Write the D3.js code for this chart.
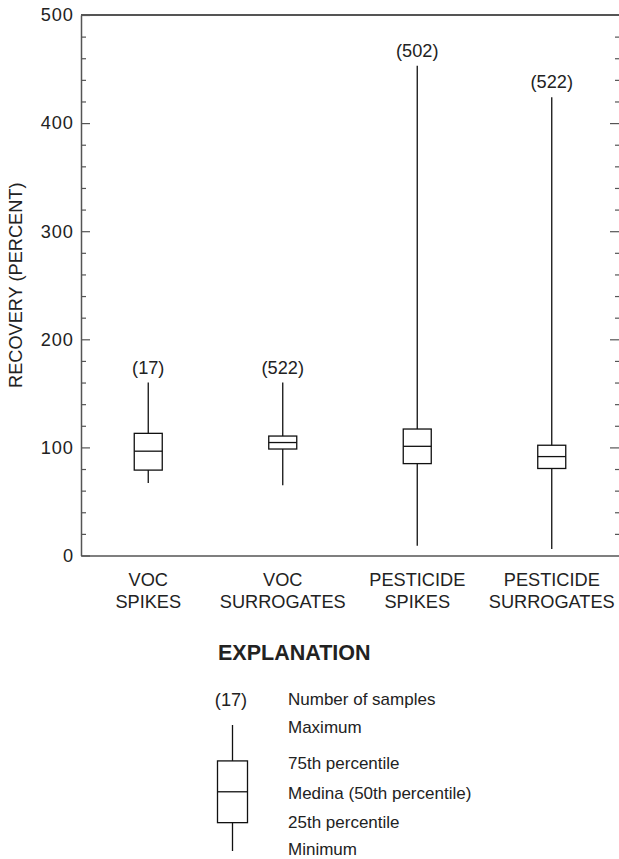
<!DOCTYPE html>
<html>
<head>
<meta charset="utf-8">
<script src="https://cdn.jsdelivr.net/npm/d3@7"></script>
<style>
  body { margin: 0; background: #fff; }
  svg { font-family: "Liberation Sans", Arial, sans-serif; }
</style>
</head>
<body>
<div id="chart"></div>
<script>
// box plot data
const categories = ["VOC|SPIKES", "VOC|SURROGATES", "PESTICIDE|SPIKES", "PESTICIDE|SURROGATES"];
const counts = [17, 522, 502, 522];
const mins = [67, 65, 9, 6];
const q1s = [79, 98.5, 85, 80.5];
const medians = [96.5, 104.5, 101, 91.5];
const q3s = [113, 110.5, 117, 102];
const maxs = [160, 160, 453, 424];
const majorTicks = [0, 100, 200, 300, 400, 500];

const legendLabels = ["Number of samples", "Maximum", "75th percentile",
  "Medina (50th percentile)", "25th percentile", "Minimum"];

const width = 619, height = 859;
const margin = {top: 15, right: 0, bottom: 303.5, left: 81};
const axisColor = "#555", inkColor = "#222";
const fs = 18.2;

const boxes = categories.map((c, i) => ({
  name: c, n: counts[i], min: mins[i], q1: q1s[i], med: medians[i], q3: q3s[i], max: maxs[i]
}));

const svg = d3.select("#chart").append("svg")
    .attr("width", width)
    .attr("height", height);

const x = d3.scaleBand()
    .domain(categories)
    .range([margin.left, width - margin.right]);

const y = d3.scaleLinear()
    .domain([0, 500])
    .range([height - margin.bottom, margin.top]);

const minorTicks = d3.range(0, 501, 20).filter(v => v % 100 !== 0);

// left axis, ticks pointing inward
const leftG = svg.append("g").attr("transform", `translate(${margin.left},0)`);
leftG.call(d3.axisLeft(y).tickValues(majorTicks).tickSizeInner(-9).tickSizeOuter(0).tickPadding(7))
  .call(g => g.select(".domain").attr("stroke", axisColor).attr("stroke-width", 1.5))
  .call(g => g.selectAll(".tick line").attr("stroke", axisColor).attr("stroke-width", 1.2))
  .call(g => g.selectAll(".tick text").attr("font-size", fs).attr("fill", inkColor)
      .attr("letter-spacing", "1px"));
leftG.append("g")
  .call(d3.axisLeft(y).tickValues(minorTicks).tickSizeInner(-5).tickSizeOuter(0).tickFormat(""))
  .call(g => g.select(".domain").remove())
  .call(g => g.selectAll(".tick line").attr("stroke", axisColor).attr("stroke-width", 1.2));

// right side ticks, pointing inward (axis line itself is off the edge)
const rightG = svg.append("g").attr("transform", `translate(${width},0)`);
rightG.append("g")
  .call(d3.axisLeft(y).tickValues(majorTicks.slice(1, -1)).tickSizeInner(9).tickSizeOuter(0).tickFormat(""))
  .call(g => g.select(".domain").remove())
  .call(g => g.selectAll(".tick line").attr("stroke", axisColor).attr("stroke-width", 1.2));
rightG.append("g")
  .call(d3.axisLeft(y).tickValues(minorTicks).tickSizeInner(4).tickSizeOuter(0).tickFormat(""))
  .call(g => g.select(".domain").remove())
  .call(g => g.selectAll(".tick line").attr("stroke", axisColor).attr("stroke-width", 1.2));

// top frame and bottom axis
svg.append("line")
    .attr("x1", margin.left).attr("x2", width)
    .attr("y1", y(500)).attr("y2", y(500))
    .attr("stroke", axisColor).attr("stroke-width", 1.8);

const bottomG = svg.append("g").attr("transform", `translate(0,${y(0)})`);
bottomG.call(d3.axisBottom(x).tickSize(0).tickPadding(0).tickFormat(""))
  .call(g => g.select(".domain").attr("stroke", axisColor).attr("stroke-width", 1.5));

// category labels on two lines
bottomG.selectAll(".tick").append("text")
    .attr("fill", inkColor)
    .attr("font-size", fs)
    .attr("text-anchor", "middle")
    .selectAll("tspan")
    .data(d => d.split("|"))
    .join("tspan")
      .attr("x", 0)
      .attr("y", (d, i) => 30.5 + i * 21.5)
      .text(d => d);

// y axis title
svg.append("text")
    .attr("transform", `translate(22,${(y(0) + y(500)) / 2}) rotate(-90)`)
    .attr("text-anchor", "middle")
    .attr("font-size", fs)
    .attr("fill", inkColor)
    .text("RECOVERY (PERCENT)");

// draw one box plot
const boxW = 28;
function drawBox(g, cx, b, yScale, w) {
  g.append("line")
      .attr("x1", cx).attr("x2", cx)
      .attr("y1", yScale(b.max)).attr("y2", yScale(b.min))
      .attr("stroke", "#111").attr("stroke-width", 1.3);
  g.append("rect")
      .attr("x", cx - w / 2).attr("width", w)
      .attr("y", yScale(b.q3)).attr("height", yScale(b.q1) - yScale(b.q3))
      .attr("fill", "#fff").attr("stroke", "#111").attr("stroke-width", 1.3);
  g.append("line")
      .attr("x1", cx - w / 2).attr("x2", cx + w / 2)
      .attr("y1", yScale(b.med)).attr("y2", yScale(b.med))
      .attr("stroke", "#111").attr("stroke-width", 1.3);
}

const plotG = svg.append("g");
boxes.forEach(b => {
  const cx = x(b.name) + x.bandwidth() / 2;
  drawBox(plotG, cx, b, y, boxW);
  plotG.append("text")
      .attr("x", cx)
      .attr("y", y(b.max) - 9)
      .attr("text-anchor", "middle")
      .attr("font-size", fs)
      .attr("fill", inkColor)
      .text(`(${b.n})`);
});

// EXPLANATION
svg.append("text")
    .attr("x", 218).attr("y", 660)
    .attr("font-size", 21.5)
    .attr("font-weight", "bold")
    .attr("fill", inkColor)
    .text("EXPLANATION");

// legend box uses its own little scale
const legY = d3.scaleLinear().domain([0, 100]).range([851, 725]);
const legBox = {n: 17, min: 0, q1: 22.5, med: 47, q3: 71.5, max: 100};
const legG = svg.append("g");
drawBox(legG, 232.5, legBox, legY, 30);
legG.append("text")
    .attr("x", 231).attr("y", 706)
    .attr("text-anchor", "middle")
    .attr("font-size", fs)
    .attr("fill", inkColor)
    .text("(17)");

const legTextY = [699, 727, 763, 793, 822, 849];
legG.selectAll("text.lab")
  .data(legendLabels)
  .join("text")
    .attr("class", "lab")
    .attr("x", 288)
    .attr("y", (d, i) => legTextY[i] + 6)
    .attr("font-size", 17)
    .attr("fill", inkColor)
    .text(d => d);
</script>
</body>
</html>
